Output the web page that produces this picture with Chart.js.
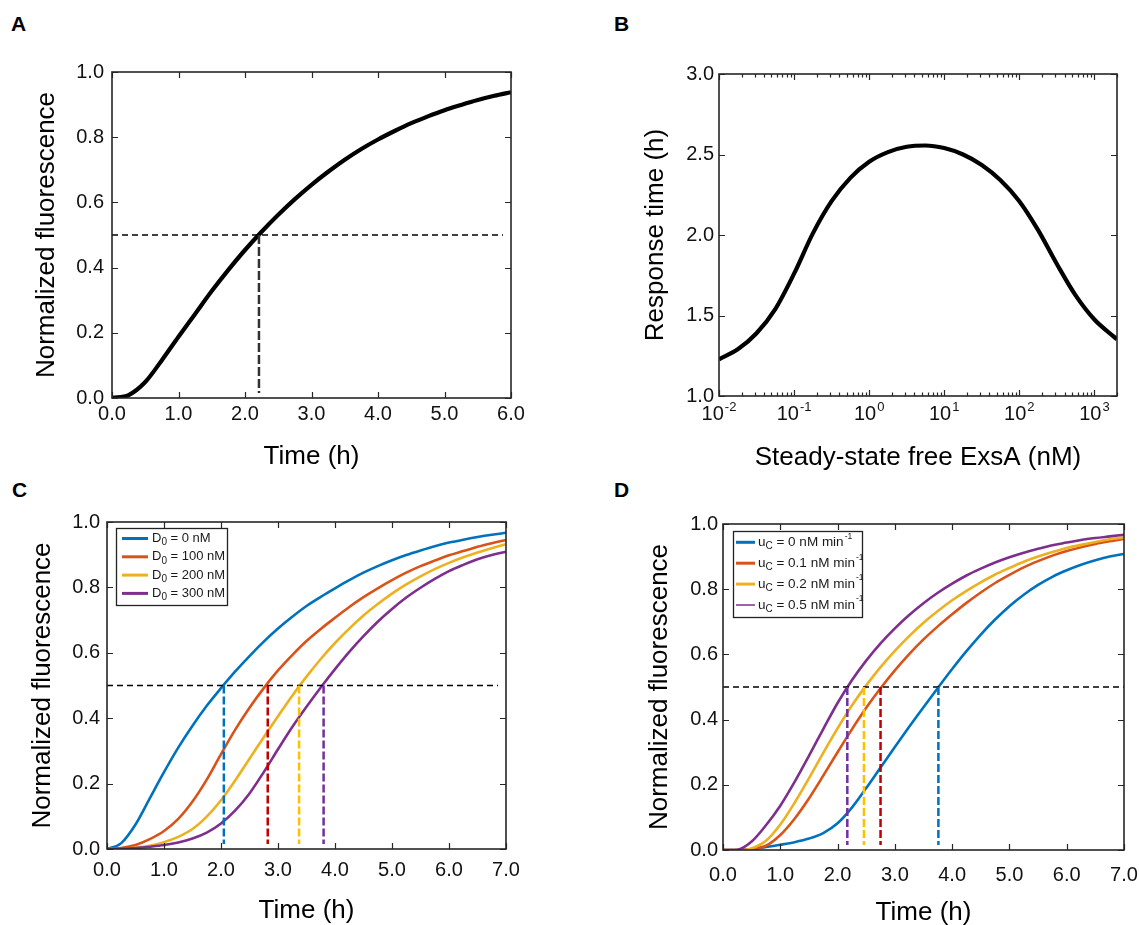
<!DOCTYPE html>
<html>
<head>
<meta charset="utf-8">
<title>Response time figure</title>
<script src="https://cdn.jsdelivr.net/npm/chart.js@4.4.1/dist/chart.umd.min.js"></script>
<style>
  body { margin: 0; background: #fff; width: 1139px; height: 925px; position: relative; overflow: hidden;
         font-family: 'Liberation Sans', Arial, sans-serif; }
  canvas { position: absolute; }
  .tag { position: absolute; font-weight: bold; font-size: 21px; line-height: 21px; color: #000; }
</style>
</head>
<body>
<div class="tag" style="left:11px;top:13px">A</div>
<div class="tag" style="left:614px;top:13px">B</div>
<div class="tag" style="left:12px;top:479px">C</div>
<div class="tag" style="left:614px;top:479px">D</div>

<canvas id="chartA" width="565" height="480" style="left:0;top:0"></canvas>
<canvas id="chartB" width="574" height="480" style="left:565px;top:0"></canvas>
<canvas id="chartC" width="565" height="470" style="left:0;top:465px"></canvas>
<canvas id="chartD" width="574" height="470" style="left:565px;top:465px"></canvas>

<script>
(function() {
  'use strict';

  // ---- data ----

  // A: single reporter
  const aTime  = [0, 0.25, 0.5, 0.75, 1.0, 1.25, 1.5, 1.75, 2.0, 2.25, 2.5, 2.75, 3.0, 3.25, 3.5, 3.75, 4.0, 4.25, 4.5, 4.75, 5.0, 5.25, 5.5, 5.75, 6.0];
  const aFluor = [0, 0.009, 0.049, 0.116, 0.188, 0.258, 0.328, 0.393, 0.454, 0.510, 0.562, 0.610, 0.654, 0.694, 0.731, 0.764, 0.793, 0.819, 0.843, 0.864, 0.883, 0.899, 0.914, 0.927, 0.938];
  const aHalfTime = 2.21;
  const aRefEnd = 5.88;

  // B: response time vs free ExsA (log x)
  const bExsA = [0.01, 0.0178, 0.0316, 0.0562, 0.1, 0.178, 0.316, 0.562, 1, 1.78, 3.16, 5.62, 10, 17.8, 31.6, 56.2, 100, 178, 316, 562, 1000, 1778, 2000];
  const bResp = [1.228, 1.29, 1.39, 1.54, 1.76, 2.01, 2.21, 2.355, 2.455, 2.515, 2.548, 2.556, 2.54, 2.50, 2.435, 2.34, 2.21, 2.03, 1.82, 1.625, 1.475, 1.372, 1.352];
  const bDecades = [-2, -1, 0, 1, 2, 3];
  const bMin = 0.01;
  const bMax = 2000;

  // C and D share the time grid
  const cdTime = [0, 0.25, 0.5, 0.75, 1.0, 1.25, 1.5, 1.75, 2.0, 2.25, 2.5, 2.75, 3.0, 3.25, 3.5, 3.75,
                  4.0, 4.25, 4.5, 4.75, 5.0, 5.25, 5.5, 5.75, 6.0, 6.25, 6.5, 6.75, 7.0];

  // C: decoy concentration D0 (nM)
  const cLabels = ['0', '100', '200', '300'];
  const cFluor0   = [0, 0.018, 0.075, 0.155, 0.235, 0.31, 0.377, 0.438, 0.492, 0.543, 0.59, 0.634, 0.674, 0.71, 0.743, 0.771,
                     0.797, 0.822, 0.845, 0.865, 0.883, 0.899, 0.913, 0.926, 0.937, 0.946, 0.954, 0.961, 0.967];
  const cFluor100 = [0, 0.003, 0.012, 0.03, 0.055, 0.092, 0.145, 0.212, 0.29, 0.365, 0.432, 0.492, 0.546, 0.593, 0.636, 0.673,
                     0.707, 0.74, 0.77, 0.797, 0.822, 0.845, 0.865, 0.882, 0.898, 0.911, 0.924, 0.935, 0.945];
  const cFluor200 = [0, 0.001, 0.004, 0.01, 0.021, 0.037, 0.061, 0.099, 0.149, 0.21, 0.276, 0.342, 0.406, 0.469, 0.527, 0.581,
                     0.63, 0.674, 0.714, 0.749, 0.781, 0.809, 0.834, 0.856, 0.875, 0.892, 0.907, 0.92, 0.932];
  const cFluor300 = [0, 0.001, 0.003, 0.007, 0.012, 0.02, 0.032, 0.05, 0.078, 0.118, 0.17, 0.235, 0.305, 0.373, 0.435, 0.494,
                     0.55, 0.603, 0.651, 0.695, 0.734, 0.769, 0.799, 0.826, 0.85, 0.869, 0.886, 0.899, 0.909];
  const cHalfTimes = [2.05, 2.82, 3.37, 3.80];
  const cRefEnd = 6.86;

  // D: constitutive production uC (nM/min)
  const dLabels = ['0', '0.1', '0.2', '0.5'];
  const dFluor0  = [0, 0, 0.003, 0.009, 0.016, 0.024, 0.035, 0.052, 0.082, 0.13, 0.19, 0.253, 0.316, 0.378, 0.438, 0.497,
                    0.555, 0.61, 0.661, 0.707, 0.748, 0.783, 0.813, 0.838, 0.858, 0.875, 0.889, 0.9, 0.908];
  const dFluor01 = [0, 0, 0.003, 0.013, 0.046, 0.096, 0.158, 0.228, 0.3, 0.37, 0.436, 0.496, 0.551, 0.601, 0.646, 0.686,
                    0.723, 0.758, 0.79, 0.819, 0.844, 0.867, 0.886, 0.903, 0.917, 0.929, 0.939, 0.947, 0.954];
  const dFluor02 = [0, 0, 0.005, 0.028, 0.078, 0.145, 0.22, 0.298, 0.373, 0.443, 0.505, 0.561, 0.611, 0.656, 0.697, 0.733,
                    0.766, 0.795, 0.821, 0.845, 0.865, 0.884, 0.9, 0.914, 0.926, 0.936, 0.945, 0.953, 0.959];
  const dFluor05 = [0, 0.001, 0.026, 0.076, 0.136, 0.209, 0.289, 0.371, 0.451, 0.521, 0.581, 0.634, 0.68, 0.721, 0.757, 0.789,
                    0.817, 0.842, 0.863, 0.882, 0.898, 0.912, 0.924, 0.935, 0.943, 0.951, 0.957, 0.962, 0.967];
  const dHalfTimes = [3.76, 2.75, 2.46, 2.17];
  const dRefEnd = 7.0;

  const halfLevel = 0.5;
  const dropFloor = 0.015;

  // ---- styles ----
  const curveColors = ['#0072BD', '#D95319', '#EDB120', '#7E2F8E'];
  const markColors  = ['#0070C0', '#C00000', '#FFC000', '#7030A0'];
  const axisColor = '#262626';
  const FONT = "'Liberation Sans', Arial, sans-serif";

  Chart.defaults.font.family = FONT;
  Chart.defaults.color = '#111';

  function pts(xs, ys) {
    return xs.map(function(x, i) { return {x: x, y: ys[i]}; });
  }

  // per-canvas extras read by the plugins
  const extras = {};

  // MATLAB-like box with inward ticks on all four sides
  const boxTicks = {
    id: 'boxTicks',
    afterDatasetsDraw: function(chart) {
      const ctx = chart.ctx;
      const a = chart.chartArea;
      const x = chart.scales.x;
      const y = chart.scales.y;
      ctx.save();
      ctx.strokeStyle = axisColor;
      ctx.lineWidth = 1.2;
      ctx.beginPath();
      x.ticks.forEach(function(t) {
        const px = Math.round(x.getPixelForValue(t.value)) + 0.5;
        const len = t.major === false ? 3.5 : 6;
        ctx.moveTo(px, a.bottom); ctx.lineTo(px, a.bottom - len);
        ctx.moveTo(px, a.top); ctx.lineTo(px, a.top + len);
      });
      y.ticks.forEach(function(t) {
        const py = Math.round(y.getPixelForValue(t.value)) + 0.5;
        ctx.moveTo(a.left, py); ctx.lineTo(a.left + 6, py);
        ctx.moveTo(a.right, py); ctx.lineTo(a.right - 6, py);
      });
      ctx.stroke();
      ctx.lineWidth = 1.6;
      ctx.strokeRect(a.left, a.top, a.right - a.left, a.bottom - a.top);
      ctx.restore();
    }
  };

  // legend box drawn inside the plot area, with sub/superscripts
  const insetLegend = {
    id: 'insetLegend',
    afterDraw: function(chart) {
      const o = extras[chart.canvas.id] && extras[chart.canvas.id].legend;
      if (!o) return;
      const ctx = chart.ctx;
      const a = chart.chartArea;
      const bx = a.left + o.dx;
      const by = a.top + o.dy;
      ctx.save();
      ctx.fillStyle = '#fff';
      ctx.fillRect(bx, by, o.w, o.h);
      ctx.strokeStyle = '#222';
      ctx.lineWidth = 1.3;
      ctx.strokeRect(bx + 0.5, by + 0.5, o.w, o.h);
      o.items.forEach(function(it, i) {
        const cy = by + o.row0 + i * o.rowH;
        ctx.strokeStyle = it.color;
        ctx.lineWidth = it.lw;
        ctx.beginPath();
        ctx.moveTo(bx + o.lineX0, cy);
        ctx.lineTo(bx + o.lineX1, cy);
        ctx.stroke();
        let tx = bx + o.textX;
        ctx.fillStyle = '#1a1a1a';
        ctx.textBaseline = 'middle';
        ctx.textAlign = 'left';
        ctx.font = o.size + 'px ' + FONT;
        ctx.fillText(it.main, tx, cy);
        tx += ctx.measureText(it.main).width;
        ctx.font = o.subSize + 'px ' + FONT;
        ctx.fillText(it.sub, tx, cy + o.subDy);
        tx += ctx.measureText(it.sub).width;
        ctx.font = o.size + 'px ' + FONT;
        ctx.fillText(it.rest, tx, cy);
        tx += ctx.measureText(it.rest).width;
        if (it.sup) {
          ctx.font = o.supSize + 'px ' + FONT;
          ctx.fillText(it.sup, tx + 1, cy + o.supDy);
        }
      });
      ctx.restore();
    }
  };

  // 10^n labels for the log axis
  const logLabels = {
    id: 'logLabels',
    afterDraw: function(chart) {
      const o = extras[chart.canvas.id] && extras[chart.canvas.id].logLabels;
      if (!o) return;
      const ctx = chart.ctx;
      const x = chart.scales.x;
      ctx.save();
      ctx.fillStyle = '#111';
      ctx.textBaseline = 'alphabetic';
      ctx.textAlign = 'left';
      o.decades.forEach(function(e) {
        const px = x.getPixelForValue(Math.pow(10, e));
        const sup = String(e);
        ctx.font = o.size + 'px ' + FONT;
        const w1 = ctx.measureText('10').width;
        ctx.font = o.supSize + 'px ' + FONT;
        const w2 = ctx.measureText(sup).width;
        const x0 = px - (w1 + w2 + 1) / 2;
        ctx.font = o.size + 'px ' + FONT;
        ctx.fillText('10', x0, o.baseline);
        ctx.font = o.supSize + 'px ' + FONT;
        ctx.fillText(sup, x0 + w1 + 1, o.baseline - o.supRaise);
      });
      ctx.restore();
    }
  };

  function panelOptions(cfg) {
    return {
      responsive: false,
      animation: false,
      events: [],
      layout: { padding: { top: cfg.top, right: cfg.right, left: 0, bottom: 0 } },
      plugins: {
        legend: { display: false },
        tooltip: { enabled: false }
      },
      elements: { point: { radius: 0 } },
      scales: {
        x: Object.assign({
          min: cfg.xMin,
          max: cfg.xMax,
          grid: { display: false, drawTicks: false },
          border: { display: false },
          ticks: {
            display: cfg.xTicksShown !== false,
            stepSize: 1,
            autoSkip: false,
            maxRotation: 0,
            padding: cfg.xTickPad,
            color: '#111',
            font: { size: 20 },
            callback: function(v) { return Number(v).toFixed(1); }
          },
          title: {
            display: true,
            text: cfg.xTitle,
            color: '#000',
            font: { size: 26 },
            padding: { top: 0, bottom: cfg.xTitlePad }
          },
          afterFit: function(s) { s.height = cfg.xH; s.paddingLeft = 0; s.paddingRight = 0; }
        }, cfg.xExtra || { type: 'linear' }),
        y: {
          type: 'linear',
          min: cfg.yMin,
          max: cfg.yMax,
          grid: { display: false, drawTicks: false },
          border: { display: false },
          ticks: {
            stepSize: cfg.yStep,
            padding: cfg.yTickPad,
            color: '#111',
            font: { size: 20 },
            callback: function(v) { return Number(v).toFixed(1); }
          },
          title: {
            display: true,
            text: cfg.yTitle,
            color: '#000',
            font: { size: 26 },
            padding: { top: cfg.yTitlePad, bottom: 0 }
          },
          afterFit: function(s) { s.width = cfg.yW; s.paddingTop = 0; s.paddingBottom = 0; }
        }
      }
    };
  }

  function dropLines(times, colors, width, dash) {
    return times.map(function(t, i) {
      return {
        data: [{x: t, y: halfLevel}, {x: t, y: dropFloor}],
        borderColor: colors[i],
        borderWidth: width,
        borderDash: dash,
        order: 0
      };
    });
  }

  function halfLine(end) {
    return {
      data: [{x: 0, y: halfLevel}, {x: end, y: halfLevel}],
      borderColor: '#000',
      borderWidth: 1.4,
      borderDash: [6, 4],
      order: 1
    };
  }

  function curves(seriesList, width) {
    return seriesList.map(function(s, i) {
      return {
        data: pts(cdTime, s),
        borderColor: curveColors[i],
        borderWidth: width,
        cubicInterpolationMode: 'monotone',
        order: 2 + (seriesList.length - 1 - i)
      };
    });
  }

  // ---- A ----
  new Chart(document.getElementById('chartA'), {
    type: 'line',
    data: {
      datasets: [
        dropLines([aHalfTime], ['#333'], 2.5, [9, 3])[0],
        halfLine(aRefEnd),
        { data: pts(aTime, aFluor), borderColor: '#000', borderWidth: 4.2,
          cubicInterpolationMode: 'monotone', order: 2 }
      ]
    },
    options: panelOptions({
      top: 72, right: 54, yW: 112, xH: 82,
      xMin: 0, xMax: 6, yMin: 0, yMax: 1, yStep: 0.2,
      xTickPad: 4, yTickPad: 8, xTitlePad: 8, yTitlePad: 31,
      xTitle: 'Time (h)', yTitle: 'Normalized fluorescence'
    }),
    plugins: [boxTicks]
  });

  // ---- B ----
  const bAxisTicks = [];
  bDecades.forEach(function(e) {
    for (let m = 1; m <= 9; m++) {
      const v = m * Math.pow(10, e);
      if (v <= bMax) bAxisTicks.push({ value: v, major: m === 1 });
    }
  });

  extras.chartB = {
    logLabels: { decades: bDecades, size: 20, supSize: 13, baseline: 420, supRaise: 9 }
  };

  new Chart(document.getElementById('chartB'), {
    type: 'line',
    data: {
      datasets: [
        { data: pts(bExsA, bResp), borderColor: '#000', borderWidth: 4.2,
          cubicInterpolationMode: 'monotone' }
      ]
    },
    options: panelOptions({
      top: 74, right: 22, yW: 154, xH: 84,
      xMin: bMin, xMax: bMax, yMin: 1, yMax: 3, yStep: 0.5,
      xTickPad: 4, yTickPad: 5, xTitlePad: 7, yTitlePad: 75,
      xTicksShown: false,
      xTitle: 'Steady-state free ExsA (nM)', yTitle: 'Response time (h)',
      xExtra: {
        type: 'logarithmic',
        afterBuildTicks: function(s) { s.ticks = bAxisTicks.map(function(t) { return { value: t.value, major: t.major }; }); }
      }
    }),
    plugins: [boxTicks, logLabels]
  });

  // ---- C ----
  extras.chartC = {
    legend: {
      dx: 9, dy: 6, w: 111, h: 77, row0: 10.5, rowH: 18.3,
      lineX0: 6, lineX1: 32, textX: 36,
      size: 13, subSize: 10, subDy: 4, supSize: 9, supDy: -5,
      items: cLabels.map(function(v, i) {
        return { color: curveColors[i], lw: 3, main: 'D', sub: '0', rest: ' = ' + v + ' nM' };
      })
    }
  };

  new Chart(document.getElementById('chartC'), {
    type: 'line',
    data: {
      datasets: [].concat(
        dropLines(cHalfTimes, markColors, 2.5, [8, 3]),
        [halfLine(cRefEnd)],
        curves([cFluor0, cFluor100, cFluor200, cFluor300], 2.6)
      )
    },
    options: panelOptions({
      top: 57, right: 59, yW: 107, xH: 86,
      xMin: 0, xMax: 7, yMin: 0, yMax: 1, yStep: 0.2,
      xTickPad: 9, yTickPad: 7, xTitlePad: 9, yTitlePad: 27,
      xTitle: 'Time (h)', yTitle: 'Normalized fluorescence'
    }),
    plugins: [boxTicks, insetLegend]
  });

  // ---- D ----
  extras.chartD = {
    legend: {
      dx: 10, dy: 7, w: 129, h: 86, row0: 11.3, rowH: 20.9,
      lineX0: 3, lineX1: 22, textX: 25,
      size: 13.5, subSize: 10, subDy: 4, supSize: 8.5, supDy: -6,
      items: dLabels.map(function(v, i) {
        return { color: curveColors[i], lw: i === 3 ? 1.5 : 3, main: 'u', sub: 'C',
                 rest: ' = ' + v + ' nM min', sup: '-1' };
      })
    }
  };

  new Chart(document.getElementById('chartD'), {
    type: 'line',
    data: {
      datasets: [].concat(
        dropLines(dHalfTimes, markColors, 2.5, [8, 3]),
        [halfLine(dRefEnd)],
        curves([dFluor0, dFluor01, dFluor02, dFluor05], 2.6)
      )
    },
    options: panelOptions({
      top: 59, right: 15, yW: 158, xH: 85,
      xMin: 0, xMax: 7, yMin: 0, yMax: 1, yStep: 0.2,
      xTickPad: 13, yTickPad: 5, xTitlePad: 7, yTitlePad: 79,
      xTitle: 'Time (h)', yTitle: 'Normalized fluorescence'
    }),
    plugins: [boxTicks, insetLegend]
  });

})();
</script>
</body>
</html>
